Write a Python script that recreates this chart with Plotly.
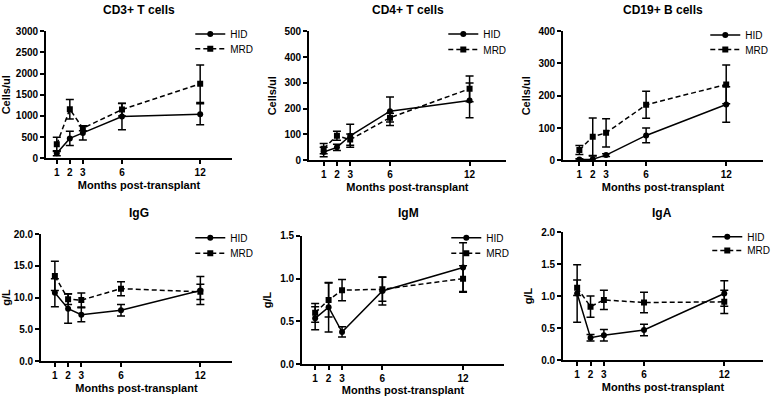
import plotly.graph_objects as go

W, H = 778, 403
months = [1, 2, 3, 6, 12]
tick_labels = ["1", "2", "3", "6", "12"]

# CD3+ T cells (cells/ul)
cd3_hid = [120, 470, 600, 985, 1040]
cd3_hid_err = [60, 170, 170, 310, 250]
cd3_mrd = [330, 1160, 710, 1150, 1760]
cd3_mrd_err = [170, 230, 60, 150, 440]

# CD4+ T cells
cd4_hid = [32, 50, 95, 190, 232]
cd4_hid_err = [18, 12, 45, 55, 67]
cd4_mrd = [45, 95, 80, 165, 277]
cd4_mrd_err = [20, 17, 22, 17, 50]

# CD19+ B cells
cd19_hid = [2, 3, 16, 77, 173]
cd19_hid_err = [3, 10, 4, 23, 55]
cd19_mrd = [32, 73, 85, 172, 235]
cd19_mrd_err = [14, 58, 44, 42, 60]

# IgG (g/L)
igg_hid = [10.75, 8.25, 7.3, 8.0, 11.1]
igg_hid_err = [2.2, 2.3, 1.1, 0.9, 2.2]
igg_mrd = [13.4, 9.75, 9.6, 11.4, 10.9]
igg_mrd_err = [2.3, 0.85, 1.1, 1.1, 1.2]

# IgM (g/L)
igm_hid = [0.535, 0.665, 0.375, 0.855, 1.13]
igm_hid_err = [0.135, 0.29, 0.06, 0.165, 0.29]
igm_mrd = [0.60, 0.75, 0.865, 0.875, 1.0]
igm_mrd_err = [0.11, 0.2, 0.125, 0.14, 0.15]

# IgA (g/L)
iga_hid = [1.04, 0.35, 0.39, 0.47, 1.04]
iga_hid_err = [0.45, 0.05, 0.09, 0.09, 0.2]
iga_mrd = [1.13, 0.835, 0.94, 0.90, 0.91]
iga_mrd_err = [0.12, 0.165, 0.15, 0.16, 0.18]

panels = [
    dict(title="CD3+ T cells", ytitle="Cells/ul", hid=cd3_hid, hid_e=cd3_hid_err, mrd=cd3_mrd, mrd_e=cd3_mrd_err,
         yr=[0, 3000], dtick=500, fmt="d", px=(43, 230), py=(26, 157), xr=(0.16, 14.45),
         tx=137, ty=4, lx=228, ly=(34, 49)),
    dict(title="CD4+ T cells", ytitle="Cells/ul", hid=cd4_hid, hid_e=cd4_hid_err, mrd=cd4_mrd, mrd_e=cd4_mrd_err,
         yr=[0, 500], dtick=100, fmt="d", px=(307, 505), py=(26, 159), xr=(-0.12, 14.75),
         tx=407, ty=4, lx=482, ly=(34, 50)),
    dict(title="CD19+ B cells", ytitle="Cells/ul", hid=cd19_hid, hid_e=cd19_hid_err, mrd=cd19_mrd, mrd_e=cd19_mrd_err,
         yr=[0, 400], dtick=100, fmt="d", px=(562, 763), py=(26, 159), xr=(-0.24, 14.76),
         tx=663, ty=4, lx=745, ly=(35, 50)),
    dict(title="IgG", ytitle="g/L", hid=igg_hid, hid_e=igg_hid_err, mrd=igg_mrd, mrd_e=igg_mrd_err,
         yr=[0, 20], dtick=5, fmt=".1f", px=(38, 230), py=(235, 366), xr=(-0.06, 14.4),
         tx=137, ty=213, lx=228, ly=(244, 260)),
    dict(title="IgM", ytitle="g/L", hid=igm_hid, hid_e=igm_hid_err, mrd=igm_mrd, mrd_e=igm_mrd_err,
         yr=[0, 1.5], dtick=0.5, fmt=".1f", px=(300, 503), py=(237, 369), xr=(0.01, 15.05),
         tx=407, ty=213, lx=485, ly=(244, 260)),
    dict(title="IgA", ytitle="g/L", hid=iga_hid, hid_e=iga_hid_err, mrd=iga_mrd, mrd_e=iga_mrd_err,
         yr=[0, 2.0], dtick=0.5, fmt=".1f", px=(562, 763), py=(233, 365), xr=(-0.07, 14.9),
         tx=662, ty=213, lx=747, ly=(243, 257)),
]

FONT = "Liberation Sans, Arial, sans-serif"
fig = go.Figure()
layout = dict(width=W, height=H, margin=dict(l=0, r=0, t=0, b=0),
              paper_bgcolor="white", plot_bgcolor="white", showlegend=True,
              font=dict(family=FONT, color="black"), annotations=[])

LEG_TEXT_OFFSET = 40   # px between legend box left and its text
LEG_CENTER_OFFSET = 20  # px between legend box top and its item centre

k = 0
for i, p in enumerate(panels, start=1):
    sx = "" if i == 1 else str(i)
    names = [("HID", p["hid"], p["hid_e"], "solid", "circle"),
             ("MRD", p["mrd"], p["mrd_e"], "5px,3px", "square")]
    for j, (nm, ys, es, dash, sym) in enumerate(names):
        k += 1
        lg = "legend" if k == 1 else "legend%d" % k
        fig.add_trace(go.Scatter(x=months, y=ys, name=nm, xaxis="x" + sx, yaxis="y" + sx,
                                 legend=lg, mode="lines+markers", showlegend=True,
                                 line=dict(color="black", width=1.5, dash=dash),
                                 marker=dict(symbol=sym, size=6, color="black"),
                                 error_y=dict(type="data", array=es, visible=True,
                                              color="black", thickness=1.5, width=4)))
        layout[lg] = dict(x=(p["lx"] - LEG_TEXT_OFFSET) / W,
                          y=1 - (p["ly"][j] - LEG_CENTER_OFFSET) / H,
                          xanchor="left", yanchor="top", visible=True,
                          bgcolor="rgba(0,0,0,0)", font=dict(size=10), itemwidth=30,
                          itemclick=False, itemdoubleclick=False)
    x0, x1 = p["px"]
    y0, y1 = p["py"]
    xd = [x0 / W, x1 / W]
    yd = [1 - y1 / H, 1 - y0 / H]
    layout["xaxis" + sx] = dict(domain=xd, range=list(p["xr"]), anchor="y" + sx,
                                tickvals=months, ticktext=tick_labels,
                                showline=True, linecolor="black", linewidth=1.5,
                                ticks="outside", ticklen=4, tickwidth=1.5, tickcolor="black",
                                showgrid=False, zeroline=False,
                                tickfont=dict(size=10, weight="bold"),
                                title=dict(text="Months post-transplant", standoff=4,
                                           font=dict(size=11, weight="bold")))
    layout["yaxis" + sx] = dict(domain=yd, range=p["yr"], anchor="x" + sx,
                                dtick=p["dtick"], tick0=0, tickformat=p["fmt"],
                                showline=True, linecolor="black", linewidth=1.5,
                                ticks="outside", ticklen=4, tickwidth=1.5, tickcolor="black",
                                showgrid=False, zeroline=False,
                                tickfont=dict(size=10, weight="bold"),
                                title=dict(text=p["ytitle"], standoff=6,
                                           font=dict(size=11, weight="bold")))
    layout["annotations"].append(dict(text="<b>%s</b>" % p["title"], x=p["tx"] / W,
                                      y=1 - p["ty"] / H, xref="paper", yref="paper",
                                      xanchor="center", yanchor="middle", showarrow=False,
                                      font=dict(size=12)))

fig.update_layout(**layout)
fig.write_html("out.html", config={"displayModeBar": False},
               post_script="document.body.style.margin='0px';")
